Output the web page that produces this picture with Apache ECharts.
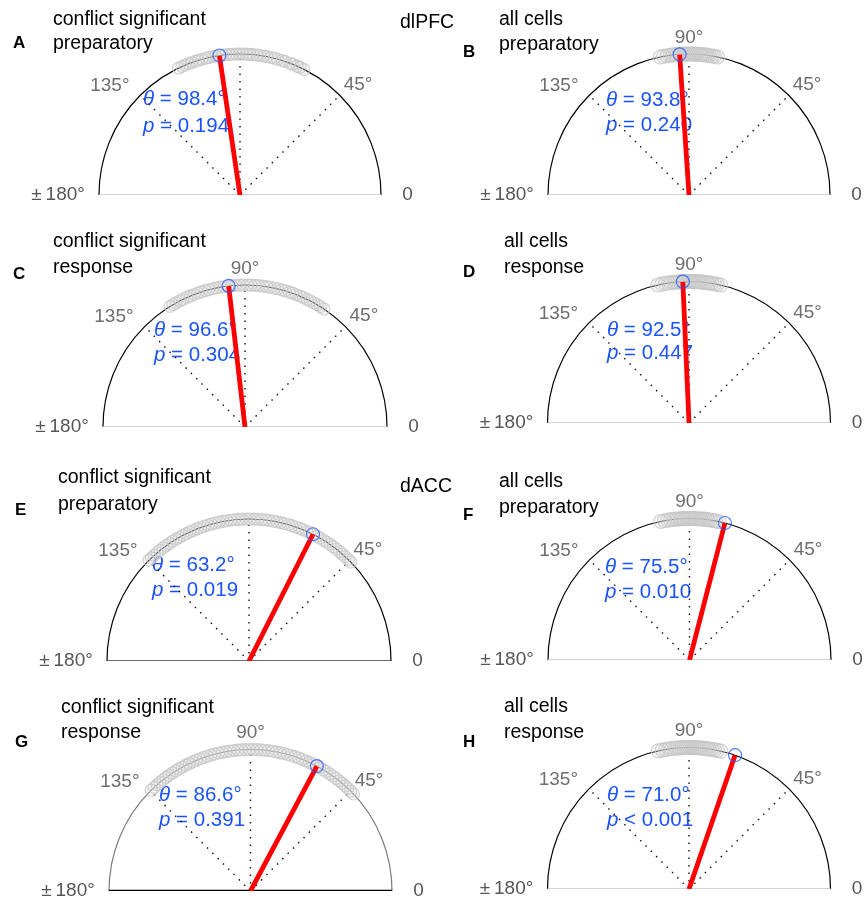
<!DOCTYPE html>
<html>
<head>
<meta charset="utf-8">
<script src="https://cdn.jsdelivr.net/npm/echarts@6/dist/echarts.min.js"></script>
<style>
html, body { margin: 0; padding: 0; background: #fff; }
#main { width: 864px; height: 904px; }
</style>
</head>
<body>
<div id="main"></div>
<script>
// panel data
var panelLetters = ['A', 'B', 'C', 'D', 'E', 'F', 'G', 'H'];
var panelTitles = [
    ['conflict significant', 'preparatory'],
    ['all cells', 'preparatory'],
    ['conflict significant', 'response'],
    ['all cells', 'response'],
    ['conflict significant', 'preparatory'],
    ['all cells', 'preparatory'],
    ['conflict significant', 'response'],
    ['all cells', 'response']
];
var regionNames = ['dlPFC', 'dACC'];
// angle of the red mean vector as drawn in the figure
var meanAngles = [98.4, 93.8, 96.6, 92.5, 63.2, 75.5, 62.0, 71.0];
var thetaTexts = ['98.4°', '93.8°', '96.6°', '92.5°', '63.2°', '75.5°', '86.6°', '71.0°'];
var pTexts = ['= 0.194', '= 0.240', '= 0.304', '= 0.447', '= 0.019', '= 0.010', '= 0.391', '< 0.001'];
var tickAngles = [0, 45, 90, 135, 180];
var tickLabels = ['0', '45°', '90°', '135°', '±\u2009180°'];

// preferred phase of each cell (deg)
var cellsA = [63.0, 64.8, 66.1, 68.0, 69.2, 71.4, 72.6, 74.5, 75.9, 77.2, 79.0, 80.3, 81.9, 83.0, 84.7, 86.1, 87.4, 88.9,
    90.2, 91.5, 93.0, 94.2, 95.8, 97.1, 98.3, 99.9, 101.2, 102.8, 104.0, 105.7, 107.1, 108.3, 110.0, 111.4, 112.9, 114.3, 115.8];
var cellsB = [78.3, 79.6, 80.5, 81.7, 82.6, 83.4, 84.3, 85.1, 85.9, 86.8, 87.5, 88.3, 89.0, 89.8, 90.6, 91.3, 92.1, 93.0,
    93.8, 94.7, 95.6, 96.6, 97.7, 98.9, 100.4, 101.8];
var cellsC = [56.2, 57.9, 59.3, 61.0, 62.6, 64.1, 65.8, 67.2, 68.9, 70.5, 71.8, 73.6, 75.0, 76.7, 78.1, 79.9, 81.2, 82.8,
    84.5, 85.9, 87.6, 89.0, 90.7, 92.1, 93.8, 95.3, 96.9, 98.4, 100.0, 101.6, 103.1, 104.8, 106.2, 107.9, 109.4, 111.0,
    112.6, 114.1, 115.9, 117.3, 119.0, 120.4, 121.8];
var cellsD = [77.1, 78.5, 79.6, 80.8, 81.9, 82.9, 83.8, 84.7, 85.6, 86.4, 87.3, 88.1, 88.9, 89.7, 90.5, 91.4, 92.2, 93.1,
    94.0, 95.0, 96.0, 97.1, 98.3, 99.6, 101.0, 102.7];
var cellsE = [44.2, 45.6, 47.3, 48.9, 50.4, 52.1, 53.5, 55.2, 56.8, 58.1, 59.9, 61.3, 63.0, 64.6, 66.0, 67.8, 69.2, 70.9,
    72.4, 73.9, 75.6, 77.0, 78.7, 80.2, 81.8, 83.3, 84.9, 86.5, 88.0, 89.6, 91.1, 92.8, 94.3, 95.9, 97.4, 99.0, 100.6,
    102.1, 103.7, 105.3, 106.8, 108.4, 110.0, 111.5, 113.1, 114.7, 116.2, 117.8, 119.4, 120.9, 122.5, 124.1, 125.6,
    127.2, 128.8, 130.3, 131.9, 133.4, 134.8];
var cellsF = [78.0, 79.4, 80.5, 81.6, 82.7, 83.6, 84.5, 85.4, 86.2, 87.1, 87.9, 88.7, 89.5, 90.3, 91.1, 92.0, 92.8, 93.7,
    94.6, 95.5, 96.5, 97.6, 98.8, 100.2, 101.7];
var cellsG = [43.3, 44.9, 46.5, 48.0, 49.7, 51.2, 52.8, 54.4, 55.9, 57.6, 59.1, 60.7, 62.3, 63.8, 65.4, 67.0, 68.6, 70.1,
    71.7, 73.3, 74.8, 76.4, 78.0, 79.5, 81.1, 82.7, 84.3, 85.8, 87.4, 89.0, 90.5, 92.1, 93.7, 95.2, 96.8, 98.4, 100.0,
    101.5, 103.1, 104.7, 106.2, 107.8, 109.4, 110.9, 112.5, 114.1, 115.7, 117.2, 118.8, 120.4, 121.9, 123.5, 125.1,
    126.6, 128.2, 129.8, 131.3, 132.9, 134.6];
var cellsH = [77.0, 78.4, 79.6, 80.7, 81.8, 82.8, 83.7, 84.6, 85.5, 86.4, 87.2, 88.0, 88.8, 89.6, 90.4, 91.2, 92.1, 93.0,
    93.9, 94.9, 95.9, 97.0, 98.2, 99.5, 100.9, 102.5];
var cells = [cellsA, cellsB, cellsC, cellsD, cellsE, cellsF, cellsG, cellsH];

// layout
var centers = [[240, 195], [689, 195], [245, 427], [689, 423], [249, 661], [689.5, 660], [250.5, 891], [689, 889]];
var radii = [141, 141, 142, 141.5, 142, 141.5, 141.5, 141.5];
var titlePos = [[53, 20, 44], [499, 20, 45], [53, 242, 268], [504, 242, 268], [58, 478, 505], [499, 482, 508], [61, 708, 733], [504, 707, 733]];
var letterPos = [[13, 43], [463, 52], [13, 274], [463, 272], [15, 510], [463, 515], [15, 742], [463, 742]];
var statPos = [[143, 99, 126], [606, 100, 125], [154, 330, 355], [607, 330, 353], [152, 565, 590], [605, 567, 592], [159, 795, 820], [607, 795, 820]];
var show90 = [false, true, true, true, false, true, true, true];
var baseColor = ['#c4c4c4', '#c4c4c4', '#c4c4c4', '#c4c4c4', '#3a3a3a', '#c4c4c4', '#000', '#c4c4c4'];
var baseWidth = [1.5, 1.5, 1.5, 1.5, 1.5, 1.5, 2.5, 1.5];
var arcColor = ['#000', '#000', '#000', '#000', '#000', '#000', '#7a7a7a', '#000'];
var allCells = [false, true, false, true, false, true, false, true];

var FONT = '"Liberation Sans", Arial, Helvetica, sans-serif';
var BLUE = '#1a53ff';

var polar = [], angleAxis = [], radiusAxis = [], series = [], graphic = [];

for (var i = 0; i < 8; i++) {
    polar.push({ center: centers[i], radius: radii[i] });
    radiusAxis.push({ polarIndex: i, min: 0, max: 1, show: false });
    angleAxis.push({
        polarIndex: i, type: 'value', min: 0, max: 180,
        startAngle: 0, endAngle: 180, clockwise: false,
        axisLine: { lineStyle: { color: arcColor[i], width: 1.2 } },
        axisTick: { show: false }, axisLabel: { show: false }, splitLine: { show: false }
    });

    // baseline
    series.push({
        type: 'line', coordinateSystem: 'polar', polarIndex: i, clip: false, silent: true,
        symbol: 'none', z: 1,
        lineStyle: { color: baseColor[i], width: baseWidth[i] },
        data: [[1.12, 0], [1.09, 180]]
    });
    // dotted rays
    [45, 90, 135].forEach(function (a) {
        series.push({
            type: 'line', coordinateSystem: 'polar', polarIndex: i, clip: false, silent: true,
            symbol: 'none', z: 2,
            lineStyle: { color: '#111', width: 1.4, type: [1.5, 6] },
            data: [[0, a], [1, a]]
        });
    });
    // cells
    series.push({
        type: 'scatter', coordinateSystem: 'polar', polarIndex: i, clip: false, silent: true,
        symbol: 'circle', symbolSize: allCells[i] ? 14 : 12, z: 3,
        itemStyle: { color: 'rgba(210,210,210,0.22)', borderColor: '#c6c6c6', borderWidth: 1.1 },
        data: cells[i].map(function (a) { return [1.0, a]; })
    });
    // mean vector
    series.push({
        type: 'line', coordinateSystem: 'polar', polarIndex: i, clip: false, silent: true,
        symbol: 'none', z: 4,
        lineStyle: { color: '#ff0000', width: 4.8 },
        data: [[0, meanAngles[i]], [1, meanAngles[i]]]
    });
    series.push({
        type: 'scatter', coordinateSystem: 'polar', polarIndex: i, clip: false, silent: true,
        symbol: 'circle', symbolSize: 13, z: 5,
        itemStyle: { color: 'rgba(255,255,255,0)', borderColor: '#2a5cff', borderWidth: 1.2 },
        data: [[1.0, meanAngles[i]]]
    });
    // tick labels
    var tickPlace = { 0: [1.15, 0, 'left'], 45: [1.145, 43, 'center'], 90: [1.115, 90, 'center'], 135: [1.205, 140, 'center'], 180: [1.1, 180, 'right'] };
    var tickData = [];
    tickAngles.forEach(function (a, k) {
        if (a === 90 && !show90[i]) return;
        var p = tickPlace[a];
        tickData.push({
            value: [p[0], p[1]],
            label: {
                show: true, position: 'inside', formatter: tickLabels[k], align: p[2],
                color: a === 0 || a === 180 ? '#2a2a2a' : '#4a4a4a', fontSize: 19, fontFamily: FONT
            }
        });
    });
    series.push({
        type: 'scatter', coordinateSystem: 'polar', polarIndex: i, clip: false, silent: true,
        symbolSize: 0, z: 6, data: tickData
    });

    // texts
    graphic.push({
        type: 'text', z: 0, style: {
            text: panelTitles[i][0], x: titlePos[i][0], y: titlePos[i][1],
            font: '19.5px ' + FONT, fill: '#000', verticalAlign: 'middle'
        }
    });
    graphic.push({
        type: 'text', z: 0, style: {
            text: panelTitles[i][1], x: titlePos[i][0], y: titlePos[i][2],
            font: '19.5px ' + FONT, fill: '#000', verticalAlign: 'middle'
        }
    });
    graphic.push({
        type: 'text', z: 0, style: {
            text: panelLetters[i], x: letterPos[i][0], y: letterPos[i][1],
            font: 'bold 17px ' + FONT, fill: '#000', verticalAlign: 'middle'
        }
    });
    graphic.push({
        type: 'text', z: 0, style: {
            text: '{i|θ} = ' + thetaTexts[i], x: statPos[i][0], y: statPos[i][1],
            font: '20.5px ' + FONT, fill: BLUE, verticalAlign: 'middle',
            rich: { i: { fontStyle: 'italic', fontSize: 20.5, fontFamily: FONT, fill: BLUE } }
        }
    });
    graphic.push({
        type: 'text', z: 0, style: {
            text: '{i|p} ' + pTexts[i], x: statPos[i][0], y: statPos[i][2],
            font: '20.5px ' + FONT, fill: BLUE, verticalAlign: 'middle',
            rich: { i: { fontStyle: 'italic', fontSize: 20.5, fontFamily: FONT, fill: BLUE } }
        }
    });
}
graphic.push({ type: 'text', style: { text: regionNames[0], x: 400, y: 23, font: '19.5px ' + FONT, fill: '#000', verticalAlign: 'middle' } });
graphic.push({ type: 'text', style: { text: regionNames[1], x: 400, y: 487, font: '19.5px ' + FONT, fill: '#000', verticalAlign: 'middle' } });

var myChart = echarts.init(document.getElementById('main'));
myChart.setOption({
    animation: false,
    backgroundColor: '#fff',
    polar: polar,
    angleAxis: angleAxis,
    radiusAxis: radiusAxis,
    series: series,
    graphic: graphic
});
</script>
</body>
</html>
